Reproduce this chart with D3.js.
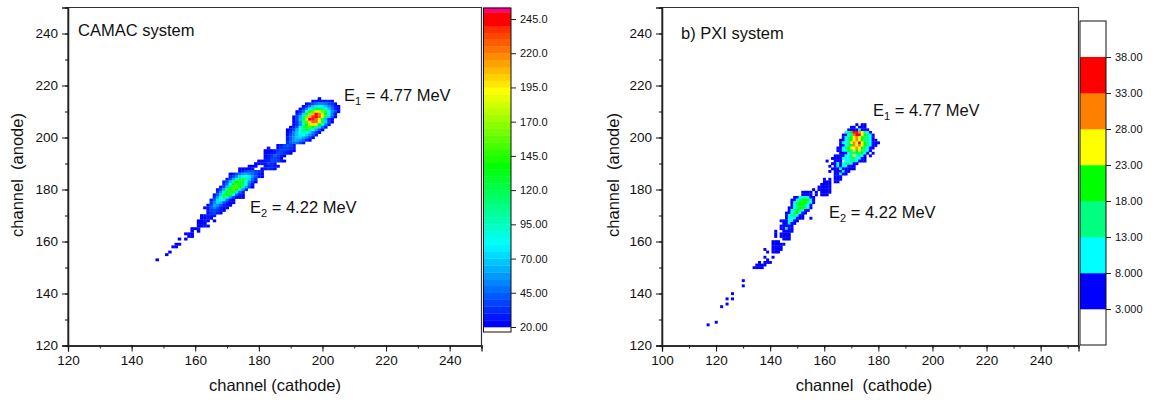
<!DOCTYPE html>
<html>
<head>
<meta charset="utf-8">
<script src="https://cdn.jsdelivr.net/npm/d3@7"></script>
<style>
  body { margin: 0; background: #fff; }
  svg { display: block; }
  text { font-family: "Liberation Sans", Arial, sans-serif; fill: #111; }
</style>
</head>
<body>
<div id="chart"></div>
<script>
// each row: anode channel, first cathode channel, counts (0 = empty cell)
const camacRows = [
  [215,199,[22]],
  [214,197,[22,25,28,28,28,25,22]],
  [213,195,[22,28,35,45,50,50,45,35,30,22]],
  [212,194,[22,30,45,65,75,80,75,65,50,40,28,22]],
  [211,193,[22,30,50,80,105,120,120,110,85,65,45,30,22]],
  [210,192,[22,28,45,80,120,150,180,180,155,115,80,55,35,22]],
  [209,192,[25,40,70,115,165,205,240,220,180,130,85,50,28]],
  [208,191,[22,35,60,105,160,205,235,245,225,185,120,70,40,22]],
  [207,191,[22,35,65,115,180,240,250,225,180,115,60,30,22]],
  [206,191,[22,30,55,100,150,200,225,225,190,125,70,35,22]],
  [205,191,[22,28,50,90,135,175,195,185,135,85,50,25]],
  [204,190,[22,25,40,75,110,140,150,135,100,70,45,25]],
  [203,189,[22,25,35,60,85,110,120,105,85,60,40,22]],
  [202,189,[22,30,50,65,85,95,85,70,50,35,22]],
  [201,189,[22,35,50,65,75,80,70,55,40,25]],
  [200,189,[25,40,55,65,70,60,50,35,22]],
  [199,189,[28,40,55,60,55,45,30,22]],
  [198,189,[30,40,48,45,35,25]],
  [197,186,[22,28,35,40,35,25]],
  [196,183,[25,0,0,22,30,35,38,30,25]],
  [195,182,[22,22,22,25,30,38,38,30,25,22]],
  [194,182,[22,22,25,28,38,38,30,25,22]],
  [193,182,[22,25,30,40,35,28,22]],
  [192,182,[25,25,35,38,30,22]],
  [191,180,[22,22,25,28,35,35,30,25,22]],
  [190,179,[22,22,25,28,35,30,25]],
  [189,177,[22,22,22,0,0,25,28,30,25,22]],
  [188,174,[22,22,22,22,25,0,0,22,25,30,28,22]],
  [187,174,[22,28,35,40,42,38,30,25]],
  [186,171,[22,28,35,45,55,60,55,45,35,28,22]],
  [185,171,[25,35,50,70,80,85,75,55,40,28,22]],
  [184,170,[25,38,60,90,110,115,100,70,45,30]],
  [183,169,[25,38,65,105,135,140,120,85,55,35,22]],
  [182,169,[30,48,85,125,145,140,115,80,45,28]],
  [181,168,[25,38,65,110,145,150,135,100,60,35,22]],
  [180,167,[25,32,60,100,140,150,135,95,55,30]],
  [179,167,[30,55,90,130,140,120,75,40,25]],
  [178,166,[25,42,70,110,135,120,80,40,25,22]],
  [177,166,[30,55,85,110,95,60,35,22,22,22]],
  [176,165,[25,42,70,88,75,45,28,22]],
  [175,165,[30,52,72,65,40,28,22,22]],
  [174,164,[22,38,60,58,40,28,22,22]],
  [173,163,[22,28,42,50,40,28,22,22]],
  [172,164,[25,35,38,30,25,22]],
  [171,164,[22,30,35,28,22]],
  [170,162,[22,25,25,28,25]],
  [169,162,[22,22,25,22]],
  [168,161,[22,22,25,22,0,22]],
  [167,161,[22,22,22]],
  [166,161,[22,22,25,22]],
  [165,159,[22,22,25]],
  [164,159,[22,0,22]],
  [163,157,[22,22,22]],
  [162,158,[22,22]],
  [161,155,[22,0,22]],
  [159,154,[22,22]],
  [158,153,[22,22]],
  [156,152,[22]],
  [155,151,[22]],
  [153,148,[22]]
];

const pxiRows = [
  [205,172,[5,0,5,5]],
  [204,170,[5,5,0,5,5,5]],
  [203,169,[5,5,5,5,10,5,5,5]],
  [202,168,[10,15,20,35,35,30,25,15,10,5]],
  [201,167,[5,5,10,15,30,35,35,25,20,15,10,5]],
  [200,167,[5,10,15,20,25,30,25,20,15,15,10,5]],
  [199,166,[5,5,10,15,20,25,30,25,20,15,15,10,5,5]],
  [198,166,[5,10,10,15,25,30,25,35,25,20,15,10,5,5,5]],
  [197,166,[5,5,10,15,20,30,25,30,25,20,15,10,5,5]],
  [196,165,[5,5,10,15,20,25,25,30,25,20,15,10,5,5]],
  [195,165,[5,5,10,10,20,15,25,20,25,15,15,10,5]],
  [194,166,[5,5,5,10,15,15,20,15,20,10,5,0,5]],
  [193,164,[5,5,5,5,10,10,15,25,10,15,10,5,0,5]],
  [192,163,[5,5,5,5,10,10,10,15,15,10,10,5,5]],
  [191,161,[5,0,0,5,5,5,0,10,10,15,15,10,5,5,5]],
  [190,163,[5,5,10,5,10,15,15,10,5,5]],
  [189,162,[5,0,5,10,5,10,10,5,5,5]],
  [188,163,[5,5,5,10,5,5,5,5,5]],
  [187,162,[5,0,5,5,5,10,5,5]],
  [186,164,[5,5,10,5,5]],
  [185,164,[5,5,5]],
  [184,160,[5,0,5,0,5,5,5]],
  [183,160,[5,5,5,0,5,5]],
  [182,159,[5,5,5,5]],
  [181,158,[5,5,5,5,5]],
  [180,156,[5,0,5,5,5,5,5]],
  [179,152,[5,5,5,5,0,5,0,5,5,5,5]],
  [178,152,[5,5,5,5,0,5,0,5,5,5]],
  [177,149,[5,5,10,10,10,10,5,5]],
  [176,148,[5,5,10,15,20,20,20,10,5]],
  [175,148,[5,10,15,20,20,20,15,10,5]],
  [174,148,[5,10,15,20,20,15,10,5]],
  [173,147,[5,5,10,15,20,20,15,10,5]],
  [172,147,[5,10,15,20,15,10,5,5]],
  [171,146,[5,5,10,15,20,10,5,5]],
  [170,146,[5,10,15,15,10,5,5]],
  [169,146,[5,10,10,10,5,5,5,0,0,5]],
  [168,144,[5,5,5,10,10,5,5]],
  [167,145,[5,5,10,5,5]],
  [166,144,[5,5,5,5,5]],
  [165,144,[5,5,10,5,5]],
  [164,142,[5,0,0,5,5,5,5]],
  [163,142,[5,0,5,5,5,5]],
  [162,142,[5,0,5,5,5,5]],
  [161,145,[5,5,5]],
  [160,141,[5,5,5]],
  [159,141,[5,5,5,5,5]],
  [158,141,[5,5,5,5]],
  [157,138,[5,0,0,5,5,5,5]],
  [156,139,[5,0,5,5,5]],
  [154,138,[5,0,0,5]],
  [153,139,[5]],
  [152,136,[5,0,5,5,5]],
  [151,135,[5,5,5,5]],
  [150,134,[5,5,5,5]],
  [145,130,[5]],
  [143,130,[5]],
  [140,126,[5]],
  [138,124,[5,0,5]],
  [136,124,[5]],
  [135,122,[5]],
  [129,120,[5]],
  [128,117,[5]]
];

const leftXTicks = [120,140,160,180,200,220,240];
const rightXTicks = [100,120,140,160,180,200,220,240];
const yTicks = [120,140,160,180,200,220,240];

const camacBarTicks = [245,220,195,170,145,120,95,70,45,20];
const camacBarLabels = ["245.0","220.0","195.0","170.0","145.0","120.0","95.00","70.00","45.00","20.00"];
const pxiBarTicks = [38,33,28,23,18,13,8,3];
const pxiBarLabels = ["38.00","33.00","28.00","23.00","18.00","13.00","8.000","3.000"];
const pxiLevels = [3,8,13,18,23,28,33];
const pxiColors = ["#0000ff","#00ffff","#00ff80","#00ff00","#ffff00","#ff8000","#ff0000"];

const svg = d3.select("#chart").append("svg")
    .attr("width", 1151)
    .attr("height", 403);

// continuous rainbow for the left panel, cut into steps of 5 counts
const rainbow = d3.scaleLinear()
    .domain([20,78,135,190,245])
    .range(["#0000ff","#00ffff","#00ff00","#ffff00","#ff0000"]);
const camacColor = v => {
    const level = Math.floor((v - 20) / 5) * 5 + 20;
    return level >= 250 ? "#ff0080" : rainbow(level + (level >= 240 ? 5 : 0));
};
const pxiColor = v => pxiColors[d3.bisectRight(pxiLevels, v) - 1];

function drawPanel(o) {
    const x = d3.scaleLinear().domain(o.xDomain).range(o.xRange);
    const y = d3.scaleLinear().domain([120,250]).range([345.5,7.5]);
    const g = svg.append("g");

    const cells = [];
    o.rows.forEach(r => r[2].forEach((v,i) => {
        if (v > 0) cells.push({a: r[0], c: r[1] + i, v: v});
    }));
    g.selectAll("rect.cell")
        .data(cells)
        .join("rect")
        .attr("class", "cell")
        .attr("x", d => x(d.c - 0.5))
        .attr("y", d => y(d.a + 0.5))
        .attr("width", d => x(d.c + 0.5) - x(d.c - 0.5) + 0.3)
        .attr("height", d => y(d.a - 0.5) - y(d.a + 0.5) + 0.3)
        .attr("fill", d => o.color(d.v));

    // frame
    g.append("path")
        .attr("d", `M${o.xRange[0]},345.5V7.5H${o.xRange[1]}V345.5`)
        .attr("fill", "none")
        .attr("stroke", "#333")
        .attr("stroke-width", 1.2);

    const xMinor = d3.range(o.xDomain[0], 251, 10);
    const yMinor = d3.range(120, 251, 10);

    const xAxis = g.append("g").attr("transform", "translate(0,345.5)");
    xAxis.call(d3.axisBottom(x).tickValues(xMinor).tickSize(3).tickFormat(""));
    const xAxisMajor = g.append("g").attr("transform", "translate(0,345.5)");
    xAxisMajor.call(d3.axisBottom(x).tickValues(o.xTicks).tickSize(6).tickPadding(4).tickFormat(d3.format("d")));

    const yAxis = g.append("g").attr("transform", `translate(${o.xRange[0]},0)`);
    yAxis.call(d3.axisLeft(y).tickValues(yMinor).tickSize(3).tickFormat(""));
    const yAxisMajor = g.append("g").attr("transform", `translate(${o.xRange[0]},0)`);
    yAxisMajor.call(d3.axisLeft(y).tickValues(yTicks).tickSize(6).tickPadding(4).tickFormat(d3.format("d")));

    g.selectAll(".domain").attr("stroke", "#222").attr("stroke-width", 1.3);
    g.selectAll(".tick line").attr("stroke", "#111").attr("stroke-width", 1);
    g.selectAll(".tick text").style("font-size", "13.5px").attr("fill", "#111");

    g.append("text")
        .attr("x", o.xTitleX)
        .attr("y", 391)
        .attr("text-anchor", "middle")
        .style("font-size", "16.5px")
        .style("white-space", "pre")
        .text(o.xTitle);
    g.append("text")
        .attr("transform", `translate(${o.yTitleX},175) rotate(-90)`)
        .attr("text-anchor", "middle")
        .style("font-size", "16.5px")
        .style("white-space", "pre")
        .text("channel  (anode)");

    g.append("text")
        .attr("x", o.label[0])
        .attr("y", o.label[1])
        .style("font-size", "16.5px")
        .text(o.label[2]);

    o.energies.forEach(e => {
        const t = g.append("text")
            .attr("x", e[0])
            .attr("y", e[1])
            .style("font-size", "16.5px");
        t.append("tspan").text("E");
        t.append("tspan").attr("dy", 4).style("font-size", "11px").text(e[2]);
        t.append("tspan").attr("dy", -4).text(" = " + e[3] + " MeV");
    });
}

function drawBar(o) {
    const yBar = d3.scaleLinear().domain(o.domain).range(o.range);
    const g = svg.append("g");
    g.selectAll("rect")
        .data(o.bands)
        .join("rect")
        .attr("x", o.x0)
        .attr("y", d => yBar(d.to))
        .attr("width", o.x1 - o.x0)
        .attr("height", d => yBar(d.from) - yBar(d.to) + 0.3)
        .attr("fill", d => d.color);
    g.append("rect")
        .attr("x", o.x0)
        .attr("y", o.frame[0])
        .attr("width", o.x1 - o.x0)
        .attr("height", o.frame[1] - o.frame[0])
        .attr("fill", "none")
        .attr("stroke", "#111")
        .attr("stroke-width", 1);
    const axis = g.append("g").attr("transform", `translate(${o.x1},0)`);
    axis.call(d3.axisRight(yBar).tickValues(o.ticks).tickSize(5).tickPadding(4)
        .tickFormat((d,i) => o.labels[i]));
    axis.select(".domain").remove();
    axis.selectAll(".tick text").style("font-size", "11px").attr("fill", "#222");
    axis.selectAll(".tick line").attr("stroke", "#222");
}

drawPanel({
    rows: camacRows,
    color: camacColor,
    xDomain: [120,250],
    xRange: [68,481.5],
    xTicks: leftXTicks,
    xTitle: "channel (cathode)",
    xTitleX: 275,
    yTitleX: 23,
    label: [78,36,"CAMAC system"],
    energies: [[344,101,"1","4.77"],[250,213,"2","4.22"]]
});

drawPanel({
    rows: pxiRows,
    color: pxiColor,
    xDomain: [100,254],
    xRange: [662,1078.5],
    xTicks: rightXTicks,
    xTitle: "channel  (cathode)",
    xTitleX: 864,
    yTitleX: 619,
    label: [681,39,"b) PXI system"],
    energies: [[873,116,"1","4.77"],[829,218,"2","4.22"]]
});

const camacBands = d3.range(20,250,5).map(l => ({from: l, to: l + 5, color: camacColor(l)}));
camacBands.push({from: 250, to: 253.3, color: camacColor(250)});
drawBar({
    domain: [245,20],
    range: [19,327],
    frame: [8,332],
    bands: camacBands,
    x0: 483.5,
    x1: 511,
    ticks: camacBarTicks,
    labels: camacBarLabels
});

drawBar({
    domain: [38,3],
    range: [57,309],
    frame: [21,345],
    bands: pxiLevels.map((l,i) => ({from: l, to: l + 5, color: pxiColors[i]})),
    x0: 1080,
    x1: 1106,
    ticks: pxiBarTicks,
    labels: pxiBarLabels
});
</script>
</body>
</html>
